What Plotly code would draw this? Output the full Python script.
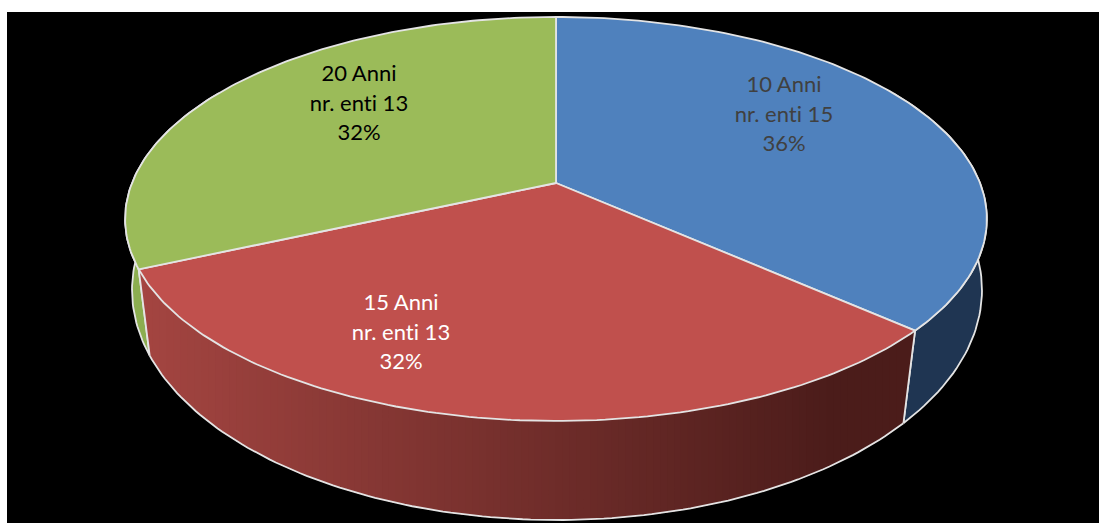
import math
import plotly.graph_objects as go

# Data
categories = ["10 Anni", "15 Anni", "20 Anni"]
entities = [15, 13, 13]
percent_labels = ["36%", "32%", "32%"]

# Styles
top_colors = ["#4F81BD", "#C0504D", "#9BBB59"]
label_colors = ["#404040", "#FFFFFF", "#000000"]
label_anchor = [(784, 116), (401, 334), (359, 105)]
LINE_GAP = 29.5
EDGE = "#E4E4E4"
EDGE_W = 1.8
WALL_RIGHT = (0x4B, 0x1C, 0x1A)
WALL_LEFT = (0xA4, 0x45, 0x41)

# Perspective geometry of the tilted disc: pixel-space scale of top and bottom rims
TOP = dict(cx=556, y0=183, R=424, q=195.6, k=0.178)
BOTTOM = dict(cx=557, y0=257.8, R=420.8, q=225.5, k=0.14)


def rim(theta_deg, d, f=1.0):
    t = math.radians(theta_deg)
    w = 1 + d["k"] * f * math.cos(t)
    return (d["cx"] + d["R"] * f * math.sin(t) / w,
            d["y0"] - d["q"] * f * math.cos(t) / w)


def arc(a, b, d, n=120):
    pts = [rim(a + (b - a) * i / n, d) for i in range(n + 1)]
    return [p[0] for p in pts], [p[1] for p in pts]


def mix(c1, c2, t):
    t = max(0.0, min(1.0, t))
    return "rgb(%d,%d,%d)" % tuple(round(c1[i] + (c2[i] - c1[i]) * t) for i in range(3))


def wall(a, b, fill, line=None, width=0.0):
    xt, yt = arc(a, b, TOP, 60)
    xb, yb = arc(a, b, BOTTOM, 60)
    return go.Scatter(x=xt + xb[::-1] + xt[:1], y=yt + yb[::-1] + yt[:1], mode="lines",
                      fill="toself", fillcolor=fill,
                      line=dict(color=line or fill, width=width), hoverinfo="skip")


def angle_at_x(x, d, lo, hi):
    """Rim angle in [lo, hi] whose screen x is x (x falls as the angle grows), clamped."""
    if x >= rim(lo, d)[0]:
        return lo
    if x <= rim(hi, d)[0]:
        return hi
    for _ in range(40):
        mid = (lo + hi) / 2
        if rim(mid, d)[0] > x:
            lo = mid
        else:
            hi = mid
    return (lo + hi) / 2


total = sum(entities)
edges = [0.0]
for v in entities:
    edges.append(edges[-1] + 360.0 * v / total)

fig = go.Figure()

# Walls: the blue and green ones are visible only near the front
fig.add_trace(wall(60, edges[1], "#1F3552", EDGE, EDGE_W))
fig.add_trace(wall(edges[2], 300, "#8CAE50", EDGE, EDGE_W))

# Red wall, shaded in vertical bands painted from left to right
a1, a2 = edges[1], edges[2]
x_left = rim(a2, TOP)[0]
x_right = rim(a1, BOTTOM)[0]
steps = 110
for i in range(steps):
    xi = x_left + (x_right - x_left) * i / steps
    at = angle_at_x(xi, TOP, a1, a2)
    ab = angle_at_x(xi, BOTTOM, a1, a2)
    xt, yt = arc(a1, at, TOP, 60)
    xb, yb = arc(a1, ab, BOTTOM, 60)
    col = mix(WALL_LEFT, WALL_RIGHT, (i + 0.5) / steps * 1.1)
    fig.add_trace(go.Scatter(x=xt + xb[::-1] + xt[:1], y=yt + yb[::-1] + yt[:1], mode="lines",
                             fill="toself", fillcolor=col, line=dict(color=col, width=0),
                             hoverinfo="skip"))

# Pale rim along the red wall
xb, yb = arc(a1, a2, BOTTOM)
fig.add_trace(go.Scatter(x=xb, y=yb, mode="lines", line=dict(color=EDGE, width=EDGE_W), hoverinfo="skip"))
for ang in (a1, a2):
    p, q = rim(ang, TOP), rim(ang, BOTTOM)
    fig.add_trace(go.Scatter(x=[p[0], q[0]], y=[p[1], q[1]], mode="lines",
                             line=dict(color=EDGE, width=EDGE_W), hoverinfo="skip"))

# Top faces
centre = rim(0, TOP, 0.0)
for i in range(3):
    x, y = arc(edges[i], edges[i + 1], TOP)
    fig.add_trace(go.Scatter(x=[centre[0]] + x + [centre[0]], y=[centre[1]] + y + [centre[1]],
                             mode="lines", fill="toself", fillcolor=top_colors[i],
                             line=dict(color=EDGE, width=EDGE_W), hoverinfo="skip"))

# Labels, one text point per line so the line spacing can match
for i in range(3):
    ax, ay = label_anchor[i]
    fig.add_trace(go.Scatter(
        x=[ax, ax, ax], y=[ay - LINE_GAP, ay, ay + LINE_GAP], mode="text",
        text=[categories[i], f"nr. enti {entities[i]}", percent_labels[i]],
        textposition="middle center",
        textfont=dict(family="Lato", size=22, color=label_colors[i]),
        hoverinfo="skip"))

fig.update_layout(
    width=1099, height=523, autosize=False, showlegend=False,
    margin=dict(l=7, r=0, t=12, b=0, pad=0),
    paper_bgcolor="#FFFFFF", plot_bgcolor="#000000",
    xaxis=dict(range=[7, 1099], visible=False, fixedrange=True),
    yaxis=dict(range=[523, 12], visible=False, fixedrange=True),
)

css = "text{font-variant-ligatures:none !important;font-feature-settings:'liga' 0,'clig' 0 !important}"
fig.write_html("out.html", config={"displayModeBar": False},
               post_script="document.body.style.margin='0';document.body.style.overflow='hidden';"
                           'var s=document.createElement("style");'
                           f's.textContent="{css}";'
                           "document.head.appendChild(s);")
